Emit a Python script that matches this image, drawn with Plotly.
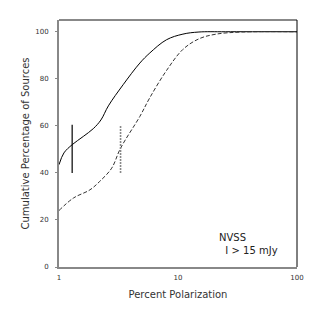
import plotly.graph_objects as go

# Cumulative distributions
SOLID_X = [1, 1.1, 1.29, 1.6, 1.94, 2.25, 2.6, 3.46, 4.78, 5.8, 8, 11, 15, 25, 100]
SOLID_Y = [43.5, 48.5, 52, 55.5, 58.8, 62.5, 68.5, 77.5, 86.7, 91, 96.6, 99, 99.9, 100, 100]

DASH_X = [1, 1.32, 1.82, 2.2, 2.77, 3.29, 4.78, 5.8, 8, 11, 15, 21, 35, 100]
DASH_Y = [24, 29.3, 32.8, 36.4, 42, 50.5, 64, 72, 83.5, 92.5, 97, 99, 99.9, 100]

# Median markers (vertical bars)
MED_SOLID_X = [1.29, 1.29]
MED_SOLID_Y = [40, 60.5]
MED_DASH_X = [3.29, 3.29]
MED_DASH_Y = [40, 60]

Y_TICKS = [0, 20, 40, 60, 80, 100]
X_TICKS = [1, 10, 100]

FONT = "DejaVu Sans"

fig = go.Figure()

fig.add_trace(go.Scatter(
    x=SOLID_X, y=SOLID_Y, mode="lines",
    line=dict(color="black", width=1, shape="spline", smoothing=1),
))
fig.add_trace(go.Scatter(
    x=DASH_X, y=DASH_Y, mode="lines",
    line=dict(color="#333333", width=1, dash="4px,2px", shape="spline", smoothing=1),
))
fig.add_trace(go.Scatter(
    x=MED_SOLID_X, y=MED_SOLID_Y, mode="lines",
    line=dict(color="black", width=1.2),
))
fig.add_trace(go.Scatter(
    x=MED_DASH_X, y=MED_DASH_Y, mode="lines",
    line=dict(color="#888888", width=1.6, dash="2px,1px"),
))

fig.add_annotation(
    x=0.664, y=0.093, xref="paper", yref="paper",
    text="NVSS<br>  I > 15 mJy", showarrow=False, align="left",
    xanchor="left", yanchor="middle",
    font=dict(family=FONT, size=10, color="#222222"),
)

fig.update_layout(
    width=311, height=311,
    margin=dict(l=51, r=22, t=12, b=52),
    paper_bgcolor="white", plot_bgcolor="white",
    showlegend=False,
    font=dict(family=FONT, color="#333333"),
    xaxis=dict(
        type="log", range=[0, 2],
        tickvals=X_TICKS, ticktext=[str(v) for v in X_TICKS],
        tickfont=dict(size=7, color="#333333"),
        showgrid=False, zeroline=False,
        showline=True, linecolor="#888888", linewidth=2,
        ticks="", ticklabelstandoff=3,
        title=dict(text="Percent Polarization", font=dict(size=10, color="#333333"), standoff=10),
    ),
    yaxis=dict(
        range=[0, 105],
        tickvals=Y_TICKS,
        tickfont=dict(size=7, color="#333333"),
        showgrid=False, zeroline=False,
        showline=True, linecolor="#888888", linewidth=2,
        ticks="outside", ticklen=2, tickcolor="#888888",
        ticklabelstandoff=5,
        title=dict(text="Cumulative Percentage of Sources", font=dict(size=10, color="#333333"), standoff=4),
    ),
)

# top (gray) and right (black) frame edges
fig.add_shape(type="line", xref="paper", yref="paper", x0=0, x1=1, y0=1, y1=1,
              line=dict(color="#888888", width=2))
fig.add_shape(type="line", xref="paper", yref="paper", x0=1, x1=1, y0=0, y1=1,
              line=dict(color="black", width=1))

fig.write_html("out.html")
